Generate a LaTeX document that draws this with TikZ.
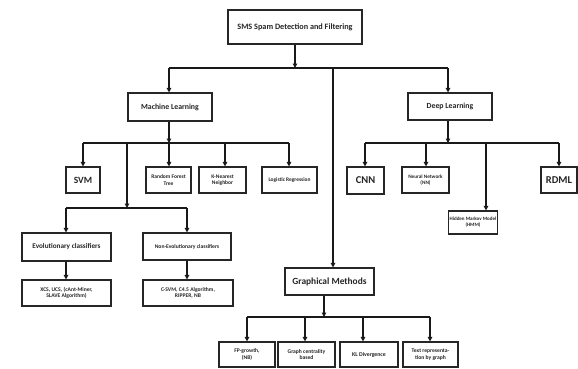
\documentclass[tikz,border=0pt]{standalone}
\usepackage{fontspec}
\setmainfont{Carlito}
\usetikzlibrary{arrows.meta}
\begin{document}
\begin{tikzpicture}[x=1pt,y=-1pt,
  box/.style={draw=black!85,line width=1.1pt,fill=white,inner sep=1pt,align=center,text=black!85,font=\fontsize{#1}{\dimexpr#1pt*118/100\relax}\selectfont\bfseries},
  box/.default=6,
  conn/.style={line width=1.4pt,black!90},
  arr/.style={conn,-{Triangle[length=4.5pt,width=4.5pt]}}]
\useasboundingbox (0,0) rectangle (578,368);
% nodes
\node[box=8.2,minimum width=134pt,minimum height=34pt] (root) at (295,27) {SMS Spam Detection and Filtering};
\node[box=7.8,minimum width=84pt,minimum height=28pt] (ml) at (170,107) {Machine Learning};
\node[box=7.8,minimum width=84pt,minimum height=27pt] (dl) at (450,106.5) {Deep Learning};
\node[box=9.5,minimum width=34pt,minimum height=26pt] (svm) at (83,180) {SVM};
\node[box=5.5,minimum width=45pt,minimum height=26pt] (rf) at (168.5,180) {Random Forest\\Tree};
\node[box=5.5,minimum width=47pt,minimum height=26pt] (knn) at (222.5,180) {K-Nearest\\Neighbor};
\node[box=5.4,minimum width=55pt,minimum height=26pt] (lr) at (289.5,180) {Logistic Regression};
\node[box=10.5,minimum width=37pt,minimum height=27pt] (cnn) at (365.5,180.5) {CNN};
\node[box=5.2,minimum width=47pt,minimum height=26pt] (nn) at (425.5,180) {Neural Network\\(NN)};
\node[box=10.5,minimum width=36pt,minimum height=26pt] (rdml) at (559,180) {RDML};
\node[box=5,minimum width=42pt,minimum height=23pt] (hmm) at (473,222.5) {Hidden Markov Model\\(HMM)};
\node[box=7.2,minimum width=89pt,minimum height=28pt] (evo) at (66.5,247) {Evolutionary classifiers};
\node[box=5.6,minimum width=88pt,minimum height=27pt] (nonevo) at (187,246.5) {Non-Evolutionary classifiers};
\node[box=5.6,minimum width=89pt,minimum height=26pt] (xcs) at (66.5,293) {XCS, UCS, (cAnt-Miner,\\SLAVE Algorithm)};
\node[box=5.6,minimum width=90pt,minimum height=26pt] (csvm) at (188,293) {C-SVM, C4.5 Algorithm,\\RIPPER, NB};
\node[box=9.4,minimum width=89pt,minimum height=27pt] (gm) at (329.5,281.5) {Graphical Methods};
\node[box=5.6,minimum width=56pt,minimum height=25pt] (fp) at (247,354.5) {FP-growth,\\(NB)};
\node[box=5.6,minimum width=57pt,minimum height=25pt] (gc) at (306.5,354.5) {Graph centrality\\based};
\node[box=5.8,minimum width=58pt,minimum height=25pt] (kl) at (369,354.5) {KL Divergence};
\node[box=5.6,minimum width=55pt,minimum height=25pt] (tr) at (430.5,354.5) {Text representa-\\tion by graph};
% bar coordinates
\coordinate (b0) at (295,68);
\coordinate (bml) at (169,68);
\coordinate (bdl) at (448,68);
\coordinate (bgm) at (333,68);
\coordinate (m0) at (169,143);
\coordinate (msvm) at (83,143);
\coordinate (mknn) at (225,143);
\coordinate (mlr) at (289,143);
\coordinate (mev) at (127,143);
\coordinate (e0) at (127,208);
\coordinate (eevo) at (66,208);
\coordinate (enon) at (187,208);
\coordinate (d0) at (448,143);
\coordinate (dcnn) at (365,143);
\coordinate (dnn) at (426,143);
\coordinate (dhmm) at (486,143);
\coordinate (drdml) at (559,143);
\coordinate (g0) at (324,317);
\coordinate (gfp) at (247,317);
\coordinate (ggc) at (305,317);
\coordinate (gkl) at (363,317);
\coordinate (gtr) at (430,317);
% level 1
\draw[arr] (root.south -| b0) -- (b0);
\draw[conn] (bml) -- (bdl);
\draw[arr] (bml) -- (ml.north -| bml);
\draw[arr] (bdl) -- (dl.north -| bdl);
\draw[arr] (bgm) -- (gm.north -| bgm);
% machine learning
\draw[arr] (ml.south -| m0) -- (m0);
\draw[conn] (msvm) -- (mlr);
\draw[arr] (msvm) -- (svm.north -| msvm);
\draw[arr] (m0) -- (rf.north -| m0);
\draw[arr] (mknn) -- (knn.north -| mknn);
\draw[arr] (mlr) -- (lr.north -| mlr);
\draw[arr] (mev) -- (e0);
\draw[conn] (eevo) -- (enon);
\draw[arr] (eevo) -- (evo.north -| eevo);
\draw[arr] (enon) -- (nonevo.north -| enon);
\draw[arr] (evo.south -| eevo) -- (xcs.north -| eevo);
\draw[arr] (nonevo.south -| enon) -- (csvm.north -| enon);
% deep learning
\draw[arr] (dl.south -| d0) -- (d0);
\draw[conn] (dcnn) -- (drdml);
\draw[arr] (dcnn) -- (cnn.north -| dcnn);
\draw[arr] (dnn) -- (nn.north -| dnn);
\draw[arr] (dhmm) -- (hmm.north -| dhmm);
\draw[arr] (drdml) -- (rdml.north -| drdml);
% graphical
\draw[arr] (gm.south -| g0) -- (g0);
\draw[conn] (gfp) -- (gtr);
\draw[arr] (gfp) -- (fp.north -| gfp);
\draw[arr] (ggc) -- (gc.north -| ggc);
\draw[arr] (gkl) -- (kl.north -| gkl);
\draw[arr] (gtr) -- (tr.north -| gtr);
\end{tikzpicture}
\end{document}
